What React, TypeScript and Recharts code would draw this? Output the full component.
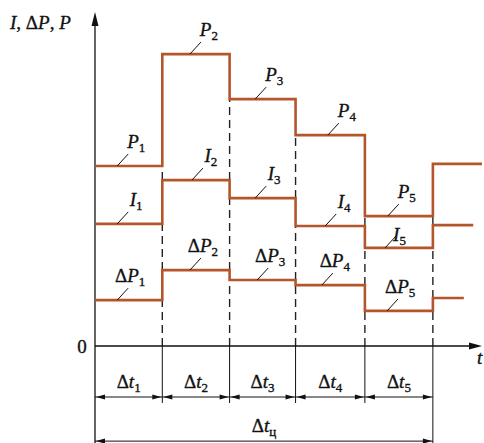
import React from "react";
import { LineChart, Line, XAxis, YAxis, ReferenceLine, ReferenceDot } from "recharts";

// interval boundaries on the time axis (t units)
const tBounds = [0, 1, 2, 2.98, 4.01, 5.02];
const intervalNames = ["1", "2", "3", "4", "5"];

// step values per interval (last one = after the cycle)
const pValues = [6.0, 9.73, 8.23, 7.03, 4.33, 6.07];
const iValues = [4.07, 5.53, 4.93, 4.0, 3.27, 4.03];
const dpValues = [1.53, 2.53, 2.2, 2.03, 1.17, 1.6];

const pEnd = 5.75;
const iEnd = 5.62;
const dpEnd = 5.48;

// where the leader ticks of the labels sit (t)
const pLabelAt = [0.33, 1.41, 2.38, 3.46, 4.35];
const iLabelAt = [0.33, 1.44, 2.38, 3.42, 4.31];
const dpLabelAt = [0.33, 1.41, 2.41, 3.37, 4.34];

const tMax = 5.75;
const yMin = -3.233;
const yMax = 11.1;
const dimLevel = -1.7;
const extLevel = -1.9;
const cycleLevel = -3.17;

const BROWN = "#b5552b";
const INK = "#111";
const FONT = "Liberation Serif";
const BOLDEN = { stroke: INK, strokeWidth: 0.35 };

const stepData = (vals: number[], end: number) => [
  ...tBounds.map((t, k) => ({ t, v: vals[k] })),
  { t: end, v: vals[vals.length - 1] },
];

// dashed parts of the boundary lines, leaving out the solid step risers
const dashedSegments = () => {
  const out: { t: number; from: number; to: number }[] = [];
  for (let k = 1; k < tBounds.length; k++) {
    const rng = (s: number[]) => [Math.min(s[k - 1], s[k]), Math.max(s[k - 1], s[k])];
    const top = rng(pValues)[0];
    const inner = [rng(dpValues), rng(iValues)].sort((a, b) => a[0] - b[0]);
    let cur = 0;
    inner.forEach((r) => {
      if (r[0] > cur) out.push({ t: tBounds[k], from: cur, to: r[0] });
      cur = Math.max(cur, r[1]);
    });
    if (top > cur) out.push({ t: tBounds[k], from: cur, to: top });
  }
  return out;
};

const Sym = ({ x, y, base, sub, delta, anchor = "middle" }: any) => (
  <text x={x} y={y} textAnchor={anchor} fontFamily={FONT} fontSize={19} fill={INK} {...BOLDEN}>
    {delta && <tspan>Δ</tspan>}
    <tspan fontStyle="italic">{base}</tspan>
    {sub && (
      <tspan fontSize={13} dy={4}>
        {sub}
      </tspan>
    )}
  </text>
);

const leaderShape = (base: string, sub: string, delta: boolean, special?: boolean) => (props: any) => {
  const { cx, cy } = props;
  const tx = cx + 11;
  const ty = cy - 12;
  return (
    <g>
      <line x1={cx} y1={cy} x2={tx} y2={ty} stroke={INK} strokeWidth={1} />
      {special ? (
        <Sym x={tx - 3} y={ty + 5} base={base} sub={sub} delta={delta} anchor="start" />
      ) : (
        <Sym x={tx + (delta ? 2 : 8)} y={ty - 6} base={base} sub={sub} delta={delta} />
      )}
    </g>
  );
};

const yAxisShape = (props: any) => {
  const { x1, y1, y2 } = props;
  const top = Math.min(y1, y2);
  const bot = Math.max(y1, y2);
  return (
    <g>
      <line x1={x1} y1={bot} x2={x1} y2={top + 8} stroke={INK} strokeWidth={1.3} />
      <polygon points={`${x1},${top - 1} ${x1 - 3.5},${top + 13} ${x1 + 3.5},${top + 13}`} fill={INK} />
    </g>
  );
};

const xAxisShape = (props: any) => {
  const { x1, y1, x2 } = props;
  return (
    <g>
      <line x1={x1} y1={y1} x2={x2 - 8} y2={y1} stroke={INK} strokeWidth={1.3} />
      <polygon points={`${x2},${y1} ${x2 - 13},${y1 - 3.5} ${x2 - 13},${y1 + 3.5}`} fill={INK} />
      <text x={x2 - 5} y={y1 + 18} fontFamily={FONT} fontSize={19} fontStyle="italic" fill={INK} {...BOLDEN}>
        t
      </text>
      <text x={x1 - 13} y={y1 + 7} textAnchor="middle" fontFamily={FONT} fontSize={19} fill={INK} {...BOLDEN}>
        0
      </text>
    </g>
  );
};

const dimShape = (sub: string) => (props: any) => {
  const { x1, y1, x2 } = props;
  const a = 9;
  const h = 2.6;
  return (
    <g>
      <line x1={x1} y1={y1} x2={x2} y2={y1} stroke={INK} strokeWidth={1} />
      <polygon points={`${x1 + 1},${y1} ${x1 + 1 + a},${y1 - h} ${x1 + 1 + a},${y1 + h}`} fill={INK} />
      <polygon points={`${x2 - 1},${y1} ${x2 - 1 - a},${y1 - h} ${x2 - 1 - a},${y1 + h}`} fill={INK} />
      <Sym x={(x1 + x2) / 2} y={y1 - 9} base="t" sub={sub} delta />
    </g>
  );
};

export default function App() {
  const dashes = dashedSegments();
  return (
    <div style={{ position: "absolute", left: 0, top: 0, background: "#fff" }}>
      <LineChart width={484} height={443} margin={{ top: 13, right: 2, bottom: 0, left: 95 }}>
        <XAxis type="number" dataKey="t" domain={[0, tMax]} allowDataOverflow hide />
        <YAxis type="number" domain={[yMin, yMax]} allowDataOverflow hide />

        {/* dashed boundary lines */}
        {dashes.map((d, k) => (
          <ReferenceLine
            key={"d" + k}
            segment={[{ x: d.t, y: d.from }, { x: d.t, y: d.to }]}
            stroke="#222"
            strokeWidth={1.4}
            strokeDasharray="8 5"
            ifOverflow="visible"
          />
        ))}

        {/* extension lines under the axis */}
        {tBounds.slice(1, -1).map((t) => (
          <ReferenceLine
            key={"e" + t}
            segment={[{ x: t, y: 0 }, { x: t, y: extLevel }]}
            stroke={INK}
            strokeWidth={1}
            ifOverflow="visible"
          />
        ))}
        <ReferenceLine
          segment={[{ x: tBounds[5], y: 0 }, { x: tBounds[5], y: yMin }]}
          stroke={INK}
          strokeWidth={1}
          ifOverflow="visible"
        />

        {/* axes */}
        <ReferenceLine segment={[{ x: 0, y: yMin }, { x: 0, y: yMax }]} shape={yAxisShape} ifOverflow="visible" />
        <ReferenceLine segment={[{ x: 0, y: 0 }, { x: tMax, y: 0 }]} shape={xAxisShape} ifOverflow="visible" />

        {/* dimension lines */}
        {intervalNames.map((n, k) => (
          <ReferenceLine
            key={"dim" + n}
            segment={[{ x: tBounds[k], y: dimLevel }, { x: tBounds[k + 1], y: dimLevel }]}
            shape={dimShape(n)}
            ifOverflow="visible"
          />
        ))}
        <ReferenceLine
          segment={[{ x: tBounds[0], y: cycleLevel }, { x: tBounds[5], y: cycleLevel }]}
          shape={dimShape("ц")}
          ifOverflow="visible"
        />

        {/* step series */}
        <Line data={stepData(dpValues, dpEnd)} dataKey="v" type="stepAfter" stroke={BROWN} strokeWidth={2.6} dot={false} activeDot={false} isAnimationActive={false} />
        <Line data={stepData(iValues, iEnd)} dataKey="v" type="stepAfter" stroke={BROWN} strokeWidth={2.6} dot={false} activeDot={false} isAnimationActive={false} />
        <Line data={stepData(pValues, pEnd)} dataKey="v" type="stepAfter" stroke={BROWN} strokeWidth={2.6} dot={false} activeDot={false} isAnimationActive={false} />

        {/* labels with leader ticks */}
        {pLabelAt.map((t, k) => (
          <ReferenceDot key={"pl" + k} x={t} y={pValues[k]} r={0} ifOverflow="visible" shape={leaderShape("P", intervalNames[k], false)} />
        ))}
        {iLabelAt.map((t, k) => (
          <ReferenceDot key={"il" + k} x={t} y={iValues[k]} r={0} ifOverflow="visible" shape={leaderShape("I", intervalNames[k], false, k === 4)} />
        ))}
        {dpLabelAt.map((t, k) => (
          <ReferenceDot key={"dl" + k} x={t} y={dpValues[k]} r={0} ifOverflow="visible" shape={leaderShape("P", intervalNames[k], true)} />
        ))}
      </LineChart>
      <svg width={90} height={40} style={{ position: "absolute", left: 0, top: 0 }}>
        <text x={10} y={29} fontFamily={FONT} fontSize={19} fill={INK} {...BOLDEN}>
          <tspan fontStyle="italic">I</tspan>, Δ<tspan fontStyle="italic">P</tspan>, <tspan fontStyle="italic">P</tspan>
        </text>
      </svg>
    </div>
  );
}
